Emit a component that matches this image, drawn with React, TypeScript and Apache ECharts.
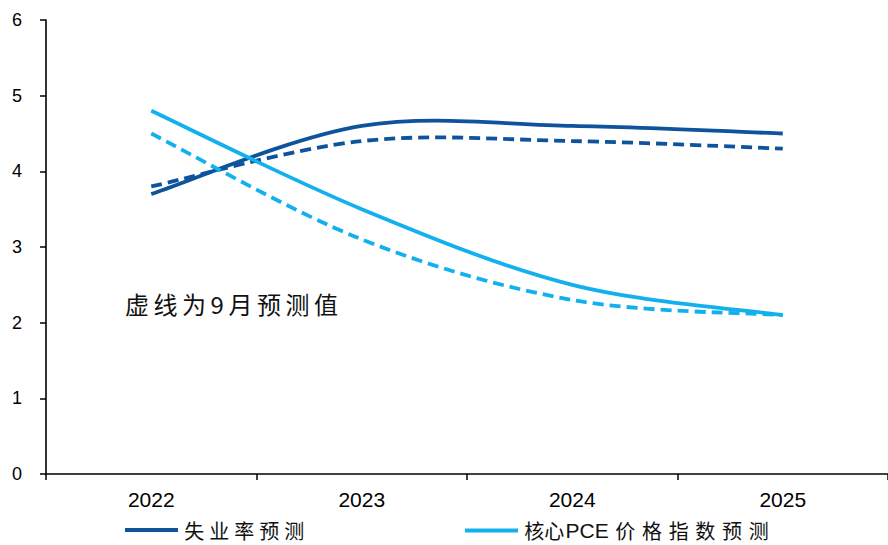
import React, { useEffect, useRef } from "react";
import * as echarts from "echarts";

const categories = ["2022", "2023", "2024", "2025"];
const unemployment = [3.7, 4.6, 4.6, 4.5];
const unemploymentSep = [3.8, 4.4, 4.4, 4.3];
const corePce = [4.8, 3.5, 2.5, 2.1];
const corePceSep = [4.5, 3.1, 2.3, 2.1];
const yTicks = [0, 1, 2, 3, 4, 5, 6];
const noteText = "虚线为9月预测值";
const legendNames = ["失业率预测", "核心PCE价格指数预测"];

const DARK = "#0D549C";
const LIGHT = "#12B1EE";
const CJK = "'Noto Sans CJK SC', 'Noto Sans', sans-serif";
const LAT = "'Liberation Sans', Arial, sans-serif";

function smoothPath(pts: number[][]): string {
  // Catmull-Rom style cubic bezier (tension 1/6), endpoints duplicated
  let d = `M${pts[0][0]},${pts[0][1]}`;
  for (let i = 0; i < pts.length - 1; i++) {
    const p0 = pts[Math.max(0, i - 1)];
    const p1 = pts[i];
    const p2 = pts[i + 1];
    const p3 = pts[Math.min(pts.length - 1, i + 2)];
    const c1x = p1[0] + (p2[0] - p0[0]) / 6;
    const c1y = p1[1] + (p2[1] - p0[1]) / 6;
    const c2x = p2[0] - (p3[0] - p1[0]) / 6;
    const c2y = p2[1] - (p3[1] - p1[1]) / 6;
    d += ` C${c1x},${c1y} ${c2x},${c2y} ${p2[0]},${p2[1]}`;
  }
  return d;
}

function makeSeries(name: string, values: number[], color: string, dashed: boolean) {
  return {
    name,
    type: "custom",
    data: values.map((v, i) => [i, v]),
    encode: { x: 0, y: 1 },
    itemStyle: { color },
    silent: true,
    renderItem: (params: any, api: any) => {
      if (params.dataIndex !== 0) return null;
      const pts = values.map((v, i) => api.coord([i, v]));
      return {
        type: "path",
        shape: { pathData: smoothPath(pts) },
        style: {
          stroke: color,
          lineWidth: 3.8,
          fill: "none",
          lineDash: dashed ? [11, 6] : null,
        },
      };
    },
  };
}

// Split into CJK runs (letter-spaced with a thin unicode space) and Latin runs
function richLegendText(name: string, gap: string): string {
  const runs = name.match(/[A-Za-z0-9]+|[^A-Za-z0-9]+/g) || [];
  const parts = runs.map((r, idx) => {
    if (/^[A-Za-z0-9]+$/.test(r)) return `{l|${r}}`;
    if (idx === 0 && runs.length > 1) return `{c|${r}\u200A}`;
    const spaced = r.split("").join(gap);
    const lead = idx > 0 ? gap : "";
    return `{c|${lead}${spaced}}`;
  });
  return "{c|\u200A}" + parts.join("");
}

function legendCfg(name: string, left: number, gap: string) {
  return {
    data: [{ name }],
    left,
    top: 520,
    padding: 0,
    icon: "rect",
    itemWidth: 53,
    itemHeight: 4,
    formatter: (n: string) => richLegendText(n, gap),
    textStyle: {
      color: "#111",
      fontSize: 20,
      fontFamily: CJK,
      lineHeight: 20,
      rich: {
        c: { fontSize: 20, fontFamily: CJK, color: "#111", lineHeight: 20 },
        l: { fontSize: 21, fontFamily: LAT, color: "#111", lineHeight: 20 },
      },
    },
  };
}

export default function App() {
  const ref = useRef<HTMLDivElement>(null);
  useEffect(() => {
    if (!ref.current) return;
    const chart = echarts.init(ref.current, undefined, { renderer: "svg" });
    let cx = 125;
    const noteEls = noteText.split("").map((ch) => {
      const el = {
        type: "text",
        x: cx,
        y: 303,
        style: {
          text: ch,
          font: `24px ${CJK}`,
          fill: "#111",
          textVerticalAlign: "middle",
        },
      };
      cx += /[0-9]/.test(ch) ? 18 : 28.5;
      return el;
    });
    chart.setOption({
      animation: false,
      backgroundColor: "#fff",
      grid: { left: 46, right: -6, top: 20, bottom: 71, containLabel: false },
      xAxis: {
        type: "category",
        data: categories,
        boundaryGap: true,
        axisLine: { lineStyle: { color: "#000", width: 1.6 } },
        axisTick: { show: true, length: 6, lineStyle: { color: "#000", width: 1.5 } },
        axisLabel: { color: "#000", fontSize: 21, fontFamily: LAT, margin: 15 },
        splitLine: { show: false },
      },
      yAxis: {
        type: "value",
        min: yTicks[0],
        max: yTicks[yTicks.length - 1],
        interval: 1,
        axisLine: { show: true, lineStyle: { color: "#000", width: 1.6 } },
        axisTick: { show: true, length: 6, lineStyle: { color: "#000", width: 1.5 } },
        axisLabel: { color: "#000", fontSize: 18, fontFamily: LAT, margin: 24 },
        splitLine: { show: false },
      },
      legend: [legendCfg(legendNames[0], 125, "\u2005"), legendCfg(legendNames[1], 465, "\u2004")],
      series: [
        makeSeries(legendNames[0], unemployment, DARK, false),
        makeSeries("失业率预测(9月)", unemploymentSep, DARK, true),
        makeSeries(legendNames[1], corePce, LIGHT, false),
        makeSeries("核心PCE价格指数预测(9月)", corePceSep, LIGHT, true),
      ],
      graphic: noteEls,
    });
    return () => chart.dispose();
  }, []);
  return <div ref={ref} style={{ width: 888, height: 545, position: "absolute", left: 0, top: 0 }} />;
}
